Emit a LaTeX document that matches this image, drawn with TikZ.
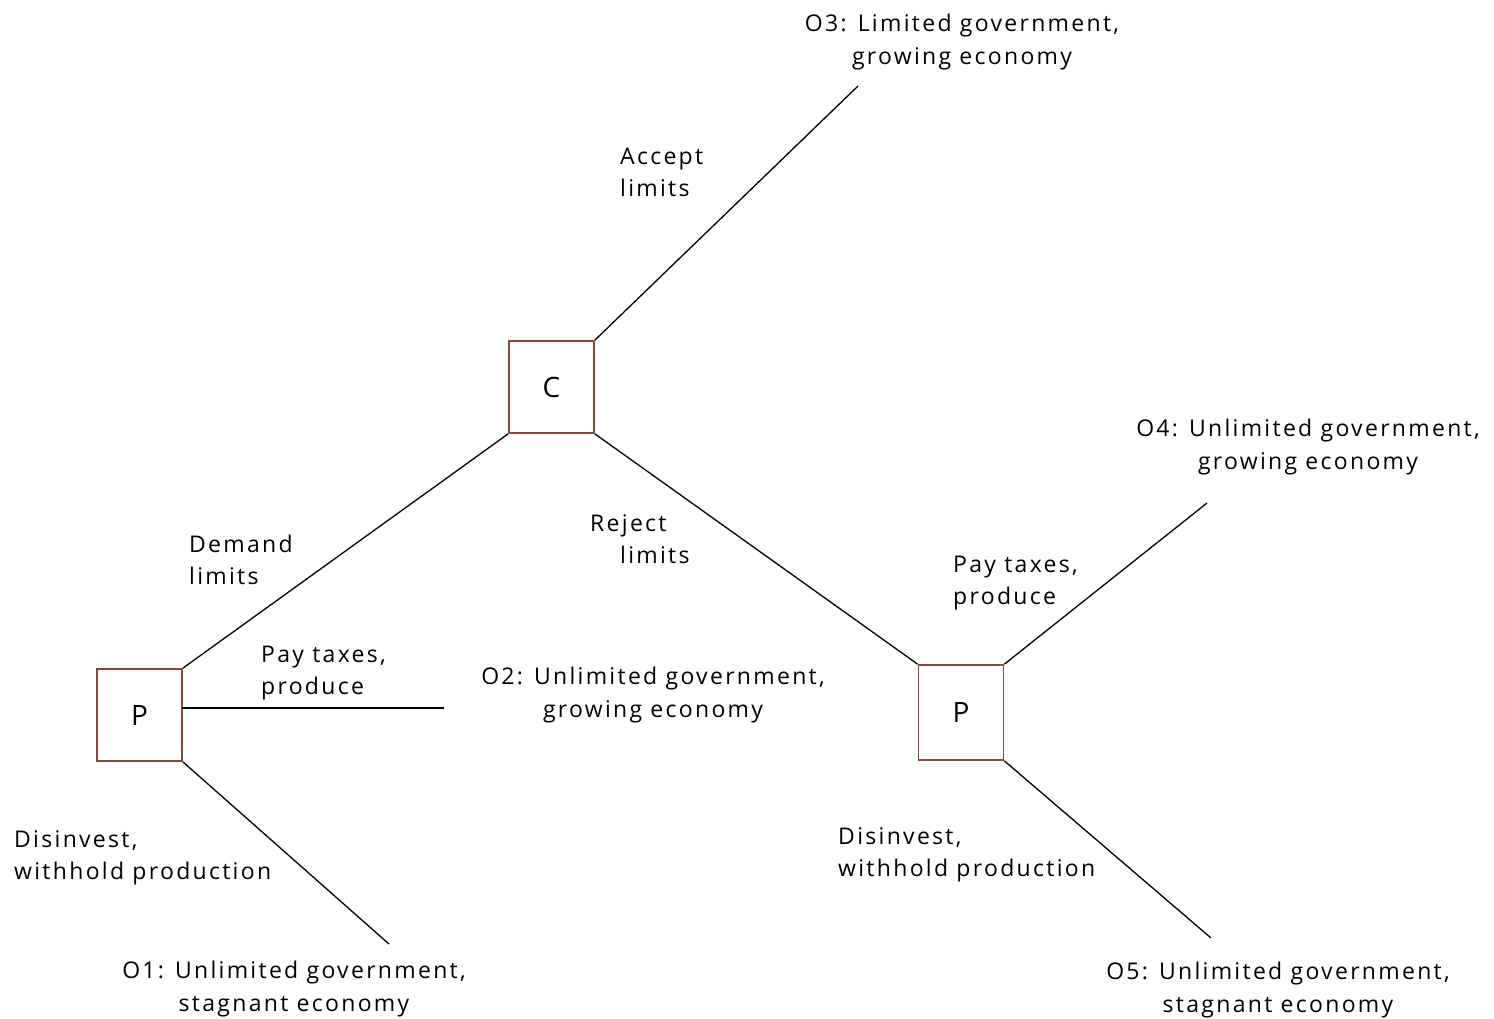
\documentclass[tikz,border=0pt]{standalone}
\usepackage{fontspec}
\setmainfont{Open Sans}[LetterSpace=10]
\begin{document}
\begin{tikzpicture}[x=1pt,y=1pt,
  box/.style={draw=boxc,line width=1.6pt,minimum width=85pt,minimum height=92pt,inner sep=0pt,font=\fontsize{28}{30}\selectfont},
  edge/.style={line width=1.3pt},
  lbl/.style={inner sep=0pt,font=\fontsize{23}{32}\selectfont,align=left},
  outcome/.style={inner sep=0pt,font=\fontsize{23}{33}\selectfont,align=center}]
\definecolor{boxc}{HTML}{8A4A3A}
\useasboundingbox (0,0) rectangle (1494,-1018);
\node[box] (C) at (551.5,-387) {C};
\node[box] (P1) at (139.5,-715) {P};
\node[box,minimum height=95pt] (P2) at (961,-712.5) {P};
\coordinate (e3) at (858,-86);
\coordinate (e2) at (444,-708);
\coordinate (e1) at (389,-944);
\coordinate (e4) at (1207,-503);
\coordinate (e5) at (1211,-938);
\coordinate (p1m) at (182,-708);
\draw[edge] (C.north east) -- (e3);
\draw[edge] (C.south west) -- (P1.north east);
\draw[edge] (C.south east) -- (P2.north west);
\draw[edge] (p1m) -- (e2);
\draw[edge] (P1.south east) -- (e1);
\draw[edge] (P2.north east) -- (e4);
\draw[edge] (P2.south east) -- (e5);
\node[outcome] (o3) at (962,-42) {O3: Limited government,\\growing economy};
\node[outcome] (o4) at (1308,-447) {O4: Unlimited government,\\growing economy};
\node[outcome] (o2) at (653,-695) {O2: Unlimited government,\\growing economy};
\node[outcome] (o1) at (294,-989) {O1: Unlimited government,\\stagnant economy};
\node[outcome] (o5) at (1278,-990) {O5: Unlimited government,\\stagnant economy};
\node[lbl,anchor=west] (la) at (620,-172) {Accept\\limits};
\node[lbl,anchor=west] (ld) at (189,-560) {Demand\\limits};
\node[lbl,anchor=west] (lr) at (590,-539) {Reject\\\hspace{30pt}limits};
\node[lbl,anchor=west] (lp2) at (953,-583) {Pay taxes,\\produce};
\node[lbl,anchor=west] (lp1) at (261,-673) {Pay taxes,\\produce};
\node[lbl,anchor=west] (ldi1) at (14,-858) {Disinvest,\\withhold production};
\node[lbl,anchor=west] (ldi2) at (838,-855) {Disinvest,\\withhold production};
\end{tikzpicture}
\end{document}
